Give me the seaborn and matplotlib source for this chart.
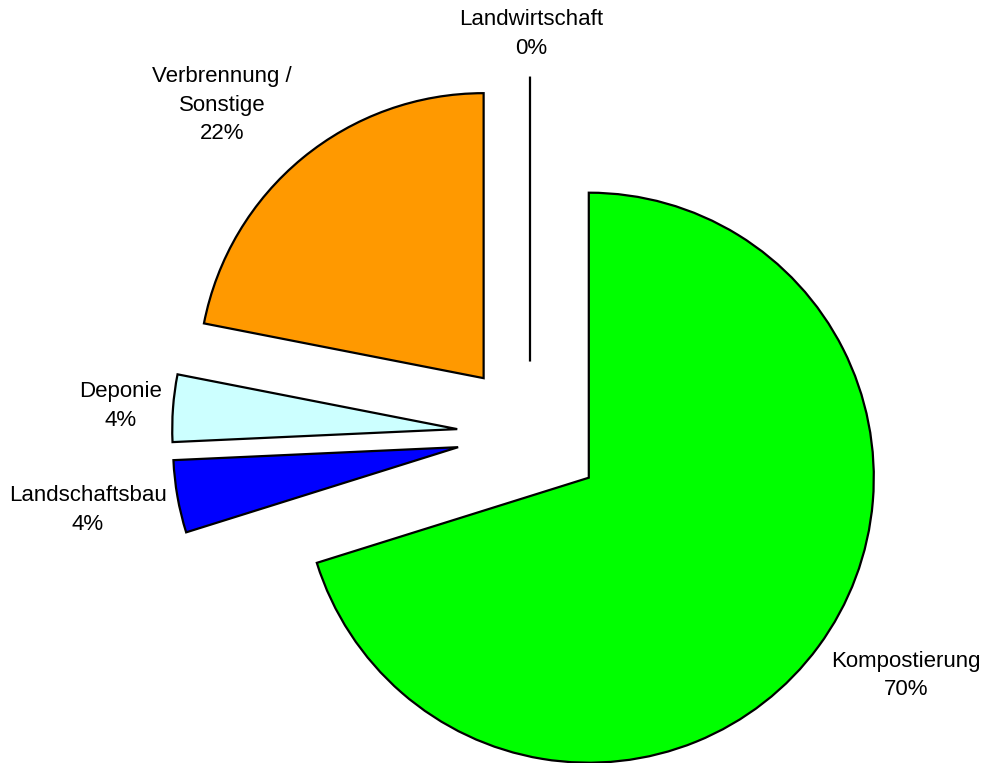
import matplotlib
matplotlib.use("Agg")
import matplotlib.pyplot as plt
import seaborn as sns

sns.set_theme(style="white")
plt.rcParams['font.family'] = ['Liberation Sans', 'DejaVu Sans']

categories = ["Kompostierung", "Landschaftsbau", "Deponie", "Verbrennung /\nSonstige", "Landwirtschaft"]
values = [70.1, 4.1, 3.8, 21.9, 0.0]
colors = ["#00FF00", "#0000FF", "#CCFFFF", "#FF9900", "#FFFFFF"]

# label positions (figure fraction, layout only)
label_pos = [(906 / 986, 1 - 675.5 / 763),
             (88 / 986, 1 - 510 / 763),
             (121 / 986, 1 - 406 / 763),
             (222 / 986, 1 - 105 / 763),
             (531.5 / 986, 1 - 34 / 763)]

fig = plt.figure(figsize=(9.86, 7.63), dpi=100)
ax = fig.add_axes([0, 0, 1, 1])

explode = [0.256] * len(values)
ax.pie(values, colors=colors, explode=explode, startangle=90, counterclock=False,
       radius=1.0, wedgeprops=dict(edgecolor="black", linewidth=1.6, joinstyle="miter"))

ax.set_aspect("auto")
ax.set_xlim(-530 / 285, (986 - 530) / 285)
ax.set_ylim(-(763 - 434.5) / 285, 434.5 / 285)
ax.axis("off")

total = sum(values)
for cat, v, (px, py) in zip(categories, values, label_pos):
    fig.text(px, py, f"{cat}\n{round(v / total * 100):.0f}%", ha="center", va="center",
             fontsize=16, color="black", linespacing=1.48, multialignment="center")

fig.savefig("out.png", dpi=100, facecolor="white")
